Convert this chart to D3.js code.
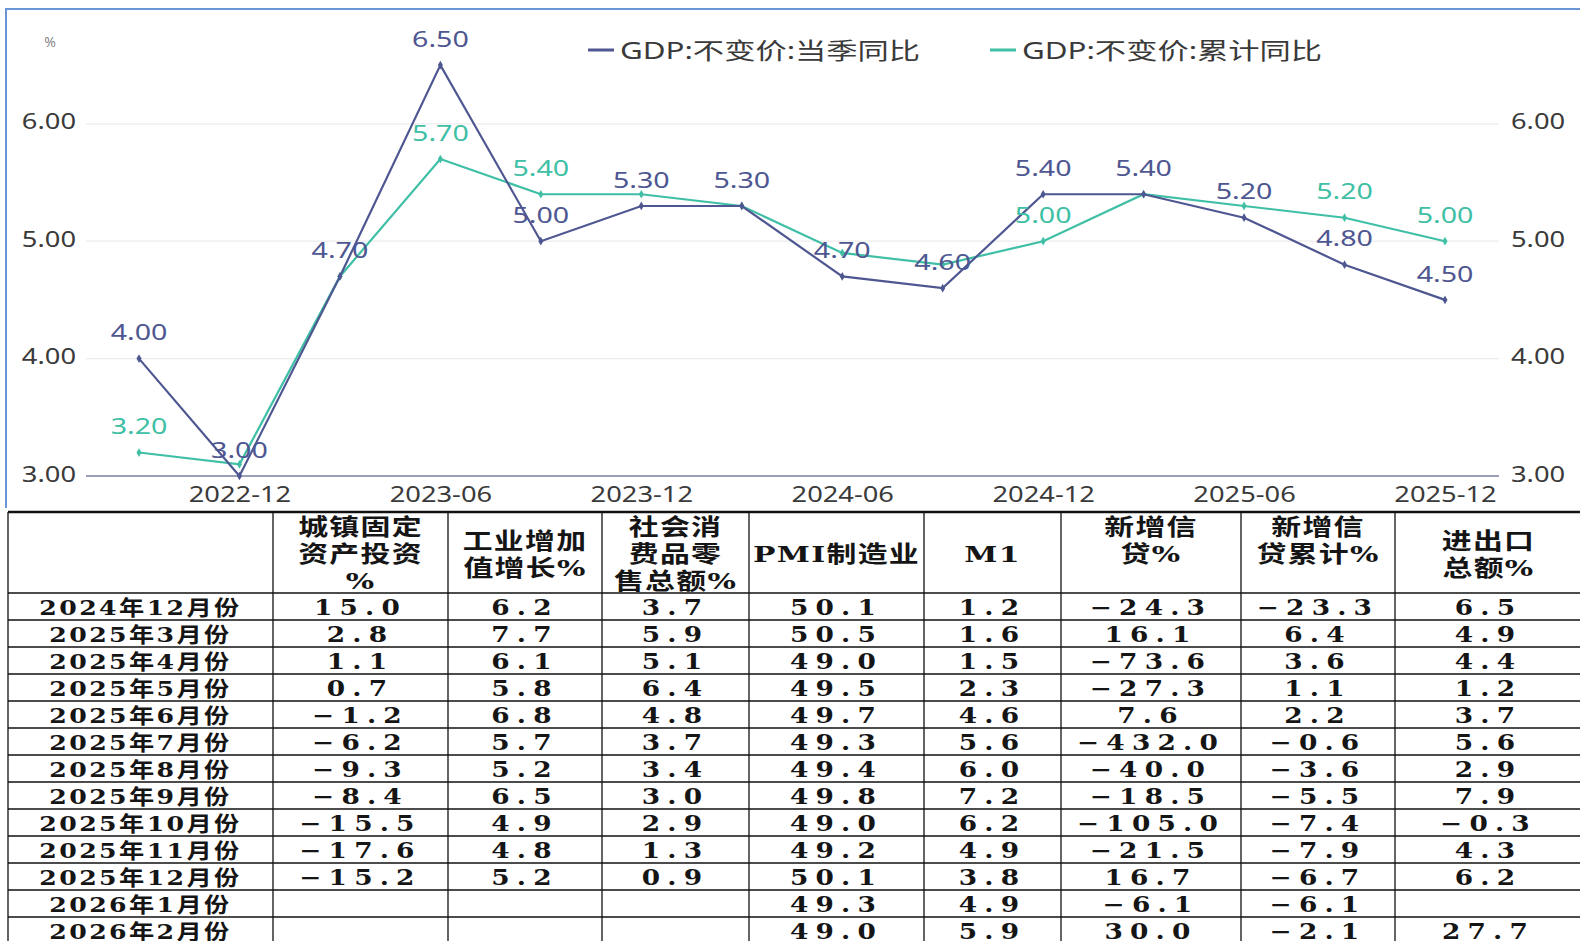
<!DOCTYPE html>
<html>
<head>
<meta charset="utf-8">
<script src="https://cdn.jsdelivr.net/npm/d3@7"></script>
<style>
html,body{margin:0;padding:0;background:#fff;overflow:hidden;}
svg{display:block;}
</style>
</head>
<body>
<svg id="chart" width="1580" height="941"></svg>
<script>
// ---------------- DATA ----------------
const categories = ["2022-09","2022-12","2023-03","2023-06","2023-09","2023-12","2024-03","2024-06","2024-09","2024-12","2025-03","2025-06","2025-09","2025-12"];
const gdpQuarter = [4.0, 3.0, 4.7, 6.5, 5.0, 5.3, 5.3, 4.7, 4.6, 5.4, 5.4, 5.2, 4.8, 4.5];
const gdpCumulative = [3.2, 3.1, 4.7, 5.7, 5.4, 5.4, 5.3, 4.9, 4.8, 5.0, 5.4, 5.3, 5.2, 5.0];
const seriesNames = ["GDP:不变价:当季同比", "GDP:不变价:累计同比"];
const xTickLabels = ["2022-12","2023-06","2023-12","2024-06","2024-12","2025-06","2025-12"];
const yTicksLeft = [3, 4, 5, 6];
const yTicksRight = [3, 4, 5, 6];
const yUnit = "%";

const tableHeaders = [[""],["城镇固定","资产投资","%"],["工业增加","值增长%"],["社会消","费品零","售总额%"],["PMI制造业"],["M1"],["新增信","贷%"],["新增信","贷累计%"],["进出口","总额%"]];
const rowLabels = ["2024年12月份","2025年3月份","2025年4月份","2025年5月份","2025年6月份","2025年7月份","2025年8月份","2025年9月份","2025年10月份","2025年11月份","2025年12月份","2026年1月份","2026年2月份"];
const fixedAssetInv = [15.0, 2.8, 1.1, 0.7, -1.2, -6.2, -9.3, -8.4, -15.5, -17.6, -15.2, null, null];
const industryVA   = [6.2, 7.7, 6.1, 5.8, 6.8, 5.7, 5.2, 6.5, 4.9, 4.8, 5.2, null, null];
const retailSales  = [3.7, 5.9, 5.1, 6.4, 4.8, 3.7, 3.4, 3.0, 2.9, 1.3, 0.9, null, null];
const pmiMfg       = [50.1, 50.5, 49.0, 49.5, 49.7, 49.3, 49.4, 49.8, 49.0, 49.2, 50.1, 49.3, 49.0];
const m1           = [1.2, 1.6, 1.5, 2.3, 4.6, 5.6, 6.0, 7.2, 6.2, 4.9, 3.8, 4.9, 5.9];
const newLoans     = [-24.3, 16.1, -73.6, -27.3, 7.6, -432.0, -40.0, -18.5, -105.0, -21.5, 16.7, -6.1, 30.0];
const newLoansCum  = [-23.3, 6.4, 3.6, 1.1, 2.2, -0.6, -3.6, -5.5, -7.4, -7.9, -6.7, -6.1, -2.1];
const tradeTotal   = [6.5, 4.9, 4.4, 1.2, 3.7, 5.6, 2.9, 7.9, -0.3, 4.3, 6.2, null, 27.7];

// ---------------- LAYOUT / STYLE ----------------
const navy = "#4E5791", green = "#3FBFA5";
const chartFont = "'Noto Sans','Noto Sans CJK SC',sans-serif";
const tableFont = "'DejaVu Serif','Noto Sans CJK SC',serif";
const SX = 1.3;
const svg = d3.select("#chart");
svg.append("rect").attr("width",1580).attr("height",941).attr("fill","#fff");

const plotL = 86, plotR = 1499;
const x = d3.scaleLinear().domain([0, categories.length - 1]).range([139, 1445]);
const y = d3.scaleLinear().domain([3, 7]).range([476, 6.4]);

function stretch(sel, px, py, sx){ return sel.attr("x",0).attr("y",0).attr("transform",`translate(${px},${py}) scale(${sx},1)`); }

// chart frame border
svg.append("path").attr("d","M6,508 L6,9 L1580,9").attr("fill","none").attr("stroke","#6A96D8").attr("stroke-width",2);

// grid
const g = svg.append("g");
g.selectAll("line.grid").data(yTicksLeft.filter(d => d !== 3)).join("line")
  .attr("x1", plotL).attr("x2", plotR).attr("y1", d => y(d)).attr("y2", d => y(d))
  .attr("stroke", "#ececec").attr("stroke-width", 1.2);
g.append("line").attr("x1", plotL).attr("x2", plotR).attr("y1", y(3)).attr("y2", y(3))
  .attr("stroke", "#77809f").attr("stroke-width", 1.5);

// axes
const axL = g.append("g").attr("transform", `translate(${plotL},0)`)
  .call(d3.axisLeft(y).tickValues(yTicksLeft).tickFormat(d3.format(".2f")).tickSize(0).tickPadding(10));
const axR = g.append("g").attr("transform", `translate(${plotR},0)`)
  .call(d3.axisRight(y).tickValues(yTicksRight).tickFormat(d3.format(".2f")).tickSize(0).tickPadding(12));
[axL, axR].forEach(a => {
  a.select(".domain").remove();
  a.selectAll("text").each(function(){
    const t = d3.select(this);
    const xx = +t.attr("x");
    t.attr("dy", null).attr("dominant-baseline","central")
     .attr("transform", `translate(${xx},-3) scale(${SX},1)`).attr("x",0)
     .attr("font-family", chartFont).attr("font-size", 21).attr("fill", "#3a3a3a");
  });
});
const axB = g.append("g").attr("transform", `translate(0,${y(3)})`)
  .call(d3.axisBottom(x).tickValues(xTickLabels.map(l => categories.indexOf(l))).tickFormat(i => categories[i]).tickSize(0));
axB.select(".domain").remove();
axB.selectAll("text").attr("y", 0).attr("dy", null).attr("dominant-baseline","central")
  .attr("transform", `translate(0,18) scale(${SX},1)`)
  .attr("font-family", chartFont).attr("font-size", 21).attr("fill", "#3a3a3a");

// unit
svg.append("text").attr("x", 50).attr("y", 41).attr("text-anchor","middle").attr("dominant-baseline","central")
  .attr("font-family", chartFont).attr("font-size", 14).attr("fill", "#888").text(yUnit);

// lines
const line = d3.line().x((d, i) => x(i)).y(d => y(d));
const series = [{vals: gdpCumulative, color: green}, {vals: gdpQuarter, color: navy}];
series.forEach(s => {
  g.append("path").attr("d", line(s.vals)).attr("fill","none").attr("stroke", s.color).attr("stroke-width", 2.2);
  g.selectAll(null).data(s.vals).join("path")
    .attr("d", d3.symbol(d3.symbolDiamond, 22))
    .attr("transform", (d, i) => `translate(${x(i)},${y(d)})`).attr("fill", s.color);
});

// labels (navy first, green only if free)
const placed = [];
const lblOff = 27;
function addLabels(vals, color, check){
  vals.forEach((v, i) => {
    const lx = x(i), ly = y(v) - lblOff;
    if (check && placed.some(p => Math.abs(p.x - lx) < 50 && Math.abs(p.y - ly) < 26)) return;
    placed.push({x: lx, y: ly});
    stretch(g.append("text"), lx, ly, SX).attr("text-anchor","middle").attr("dominant-baseline","central")
      .attr("font-family", chartFont).attr("font-size", 22).attr("fill", color).text(d3.format(".2f")(v));
  });
}
addLabels(gdpQuarter, navy, false);
addLabels(gdpCumulative, green, true);

// legend
const legendItems = [{name: seriesNames[0], color: navy, x: 588}, {name: seriesNames[1], color: green, x: 990}];
legendItems.forEach(it => {
  svg.append("line").attr("x1", it.x).attr("x2", it.x + 26).attr("y1", 50).attr("y2", 50)
    .attr("stroke", it.color).attr("stroke-width", 3);
  stretch(svg.append("text"), it.x + 32, 50, 1.36).attr("dominant-baseline","central")
    .attr("font-family", chartFont).attr("font-size", 23).attr("fill", "#3a3a3a").text(it.name);
});

// ---------------- TABLE ----------------
const colX = [8, 273, 448, 602, 749, 924, 1061, 1241, 1395, 1582];
const headerTop = 513, headerBot = 593, rowH = 27;
const headerValign = ["middle","middle","middle","middle","middle","middle","top","top","middle"];
const columns = [fixedAssetInv, industryVA, retailSales, pmiMfg, m1, newLoans, newLoansCum, tradeTotal];
const tg = svg.append("g");
const fmt = d3.format(".1f");

tableHeaders.forEach((lines, c) => {
  const cx = (colX[c] + colX[c + 1]) / 2;
  const n = lines.length;
  const y0 = headerValign[c] === "top" ? 527 : (headerTop + headerBot) / 2 + 1 - (n - 1) * 27 / 2;
  lines.forEach((t, k) => {
    stretch(tg.append("text"), cx, y0 + k * 27, 1.3).attr("text-anchor","middle").attr("dominant-baseline","central")
      .attr("font-family", tableFont).attr("font-weight","bold").attr("font-size", 23)
      .attr("letter-spacing", 1).attr("fill", "#151515").text(t);
  });
});
rowLabels.forEach((lab, r) => {
  const cy = headerBot + r * rowH + rowH / 2 + 0.5;
  stretch(tg.append("text"), (colX[0] + colX[1]) / 2, cy, 1.2).attr("text-anchor","middle").attr("dominant-baseline","central")
    .attr("font-family", tableFont).attr("font-weight","bold").attr("font-size", 21)
    .attr("letter-spacing", 2).attr("fill", "#151515").text(lab);
  columns.forEach((col, c) => {
    const v = col[r];
    if (v === null || v === undefined) return;
    const cx = (colX[c + 1] + colX[c + 2]) / 2;
    stretch(tg.append("text"), cx, cy, 1.2).attr("text-anchor","middle").attr("dominant-baseline","central")
      .attr("font-family", tableFont).attr("font-weight","bold").attr("font-size", 22)
      .attr("letter-spacing", 6).attr("fill", "#151515").text(fmt(v));
  });
});
const nRows = rowLabels.length;
tg.append("line").attr("x1", colX[0]).attr("x2", 1580).attr("y1", headerTop - 1).attr("y2", headerTop - 1)
  .attr("stroke", "#111").attr("stroke-width", 2.5);
for (let r = 0; r <= nRows; r++) {
  const yy = headerBot + r * rowH;
  tg.append("line").attr("x1", colX[0]).attr("x2", 1580).attr("y1", yy).attr("y2", yy)
    .attr("stroke", "#111").attr("stroke-width", 1.3);
}
colX.slice(0, -1).forEach(cx => {
  tg.append("line").attr("x1", cx).attr("x2", cx).attr("y1", headerTop - 1).attr("y2", 941)
    .attr("stroke", "#111").attr("stroke-width", 1.3);
});
</script>
</body>
</html>
